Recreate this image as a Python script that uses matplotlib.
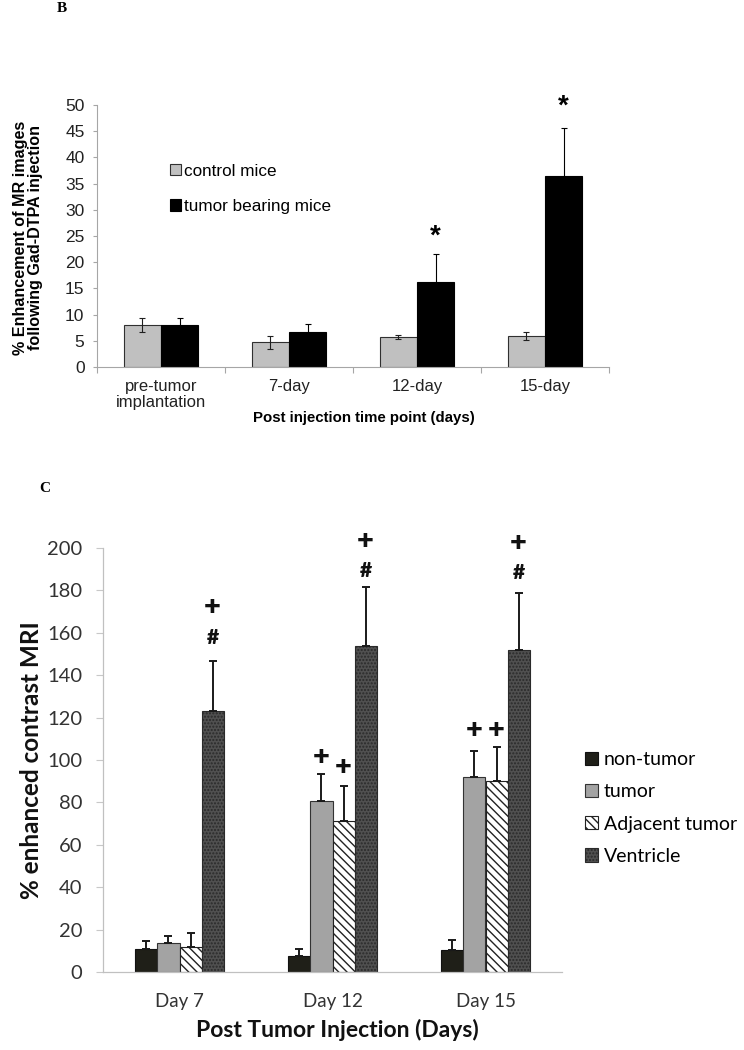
import matplotlib
matplotlib.use('Agg')
import matplotlib.pyplot as plt
import numpy as np

# Panel B data
b_groups = ['pre-tumor\nimplantation', '7-day', '12-day', '15-day']
b_control = [8.0, 4.7, 5.7, 5.9]
b_control_err = [1.35, 1.3, 0.4, 0.8]
b_tumor = [8.0, 6.6, 16.2, 36.5]
b_tumor_err = [1.4, 1.6, 5.4, 9.1]
b_star_idx = [2, 3]
b_star_y = [24.8, 49.6]

# Panel C data
c_groups = ['Day 7', 'Day 12', 'Day 15']
c_series = ['non-tumor', 'tumor', 'Adjacent tumor', 'Ventricle']
c_values = {
    'non-tumor': [10.8, 7.7, 10.2],
    'tumor': [13.5, 80.7, 92.1],
    'Adjacent tumor': [11.9, 71.4, 90.1],
    'Ventricle': [123.2, 154.0, 151.9],
}
c_errors = {
    'non-tumor': [4.0, 3.1, 4.9],
    'tumor': [3.6, 12.5, 12.3],
    'Adjacent tumor': [6.3, 16.5, 15.9],
    'Ventricle': [23.5, 27.7, 27.0],
}
# significance marks: (group, series, text, y)
c_marks = [
    (0, 'Ventricle', '+', 172), (0, 'Ventricle', '#', 158),
    (1, 'Ventricle', '+', 203.4), (1, 'Ventricle', '#', 189.6),
    (1, 'tumor', '+', 101.5), (1, 'Adjacent tumor', '+', 96.8),
    (2, 'Ventricle', '+', 202.2), (2, 'Ventricle', '#', 188.3),
    (2, 'tumor', '+', 114.2), (2, 'Adjacent tumor', '+', 114.2),
]

W, H = 744, 1050
fig = plt.figure(figsize=(W / 100, H / 100), dpi=100)
axis_gray = '#a6a6a6'

# ---------------- Panel B ----------------
arial = 'Liberation Sans'
axb = fig.add_axes([97 / W, 1 - 367 / H, (609 - 97) / W, (367 - 105) / H])
xb = np.arange(len(b_groups))
wb = 0.29
bc = axb.bar(xb - wb / 2, b_control, wb, color='#c0c0c0', edgecolor='#303030', linewidth=0.8,
             yerr=b_control_err, capsize=2.5, error_kw=dict(ecolor='#202020', elinewidth=0.8, capthick=0.8),
             label='control mice')
bt = axb.bar(xb + wb / 2, b_tumor, wb, color='black', edgecolor='black', linewidth=0.8,
             yerr=b_tumor_err, capsize=2.5, error_kw=dict(ecolor='black', elinewidth=0.8, capthick=0.8),
             label='tumor bearing mice')
for i, y in zip(b_star_idx, b_star_y):
    axb.text(xb[i] + wb / 2, y, '*', ha='center', va='center', fontsize=20, fontweight='bold', family=arial)

axb.set_xlim(-0.5, len(b_groups) - 0.5)
axb.set_ylim(0, 50)
axb.set_yticks(np.arange(0, 51, 5))
axb.set_xticks(xb)
axb.set_xticklabels(b_groups, family=arial, fontsize=12, color='#222222', linespacing=1.05)
axb.set_xticks(np.arange(-0.5, len(b_groups), 1), minor=True)
axb.tick_params(axis='x', which='major', length=0, pad=9)
axb.tick_params(axis='x', which='minor', length=4, color=axis_gray, width=0.8)
axb.tick_params(axis='y', length=3, color=axis_gray, width=0.8, pad=6, labelsize=12.5, labelcolor='#222222')
for t in axb.get_yticklabels():
    t.set_family(arial)
for s in ['top', 'right']:
    axb.spines[s].set_visible(False)
for s in ['left', 'bottom']:
    axb.spines[s].set_color(axis_gray)
    axb.spines[s].set_linewidth(0.8)
lgb = axb.legend(frameon=False, loc='upper left', bbox_to_anchor=(161 / W, 1 - 155 / H),
                 bbox_transform=fig.transFigure, prop=dict(family=arial, size=12.3),
                 handlelength=0.65, handleheight=0.65, handletextpad=0.2, labelspacing=1.2,
                 borderpad=0)

fig.text(28 / W, 1 - 238 / H, '% Enhancement of MR images\nfollowing Gad-DTPA injection',
         rotation=90, ha='center', va='center', family=arial, fontweight='bold', fontsize=11.6,
         multialignment='center', linespacing=1.05)
fig.text(364 / W, 1 - 418 / H, 'Post injection time point (days)', ha='center', va='center',
         family=arial, fontweight='bold', fontsize=10.8)
fig.text(62 / W, 1 - 9 / H, 'B', ha='center', va='center', family='Liberation Serif',
         fontweight='bold', fontsize=11)
fig.text(45 / W, 1 - 488 / H, 'C', ha='center', va='center', family='Liberation Serif',
         fontweight='bold', fontsize=11)

# ---------------- Panel C ----------------
lato = 'Lato'
plt.rcParams['hatch.linewidth'] = 1.0
axc = fig.add_axes([103 / W, 1 - 972 / H, (562 - 103) / W, (972 - 548) / H])
xc = np.arange(len(c_groups))
wc = 0.144
styles = {
    'non-tumor': dict(color='#1f1f18', edgecolor='#111111', hatch=None),
    'tumor': dict(color='#a3a3a3', edgecolor='#333333', hatch=None),
    'Adjacent tumor': dict(color='white', edgecolor='#222222', hatch='\\\\\\\\'),
    'Ventricle': dict(color='#505050', edgecolor='#2a2a2a', hatch='.....'),
}
offsets = {}
handles = []
for k, name in enumerate(c_series):
    off = (k - 1.5) * wc
    offsets[name] = off
    st = styles[name]
    errs = [np.zeros(len(c_groups)), c_errors[name]]
    h = axc.bar(xc + off, c_values[name], wc, color=st['color'], edgecolor=st['edgecolor'],
                hatch=st['hatch'], linewidth=0.8, label=name,
                yerr=errs, capsize=3, error_kw=dict(ecolor='#1a1a1a', elinewidth=1.4, capthick=1.4))
    handles.append(h)

for g, name, txt, y in c_marks:
    fs = 21 if txt == '+' else 15
    axc.text(xc[g] + offsets[name], y, txt, ha='center', va='center', fontsize=fs,
             fontweight='heavy', family=lato, color='#111111')

axc.set_xlim(-0.5, len(c_groups) - 0.5)
axc.set_ylim(0, 200)
axc.set_yticks(np.arange(0, 201, 20))
axc.set_xticks(xc)
axc.set_xticklabels(c_groups, family=lato, fontsize=13.5, color='#333333')
axc.tick_params(axis='x', length=0, pad=15)
axc.tick_params(axis='y', length=5, color='#c8c8c8', width=0.8, pad=10, labelsize=14.5, labelcolor='#333333')
for t in axc.get_yticklabels():
    t.set_family(lato)
for s in ['top', 'right']:
    axc.spines[s].set_visible(False)
for s in ['left', 'bottom']:
    axc.spines[s].set_color('#c0c0c0')
    axc.spines[s].set_linewidth(0.9)

axc.legend(handles=handles, frameon=False, loc='center left', bbox_to_anchor=(575 / W, 1 - 808 / H),
           bbox_transform=fig.transFigure, prop=dict(family=lato, size=14),
           handlelength=0.68, handleheight=0.68, handletextpad=0.3, labelspacing=0.78, borderpad=0)

fig.text(32 / W, 1 - 760 / H, '% enhanced contrast MRI', rotation=90, ha='center', va='center',
         family=lato, fontweight='bold', fontsize=17.5, color='#111111')
fig.text(337 / W, 1 - 1030 / H, 'Post Tumor Injection (Days)', ha='center', va='center',
         family=lato, fontweight='bold', fontsize=16.5, color='#111111')

fig.savefig('out.png', dpi=100)
